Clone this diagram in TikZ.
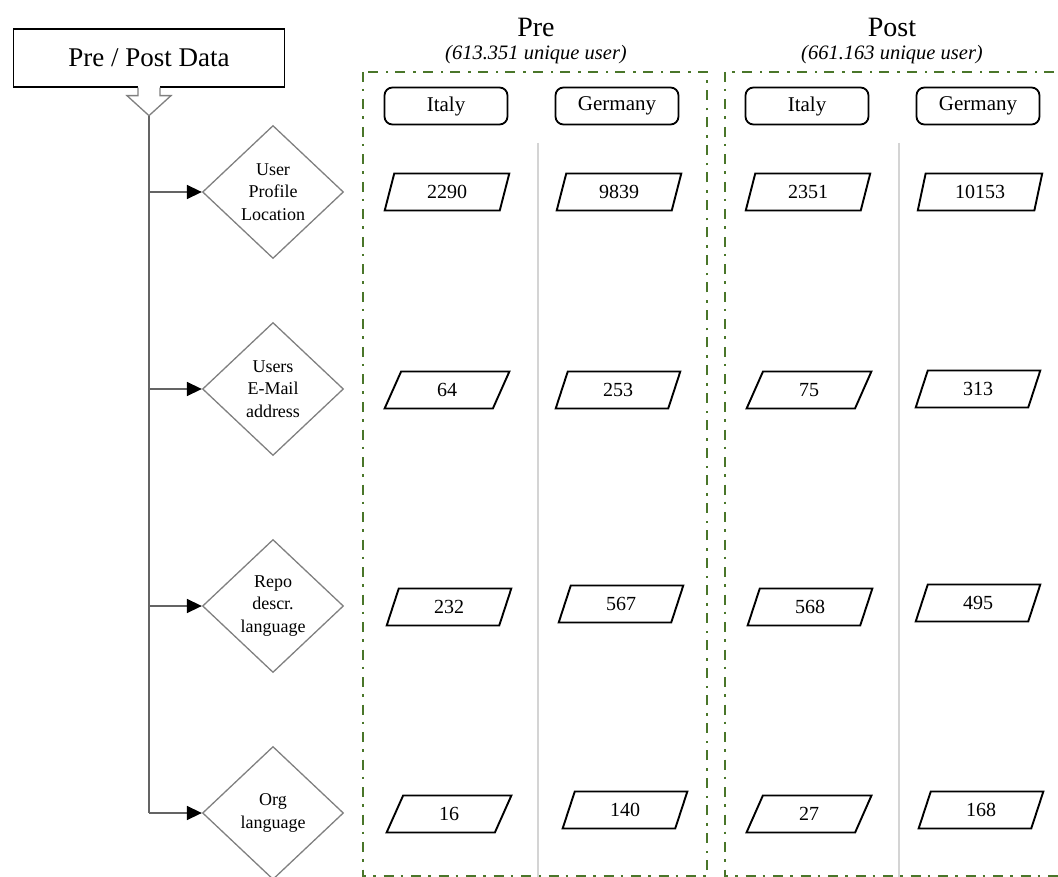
\documentclass[tikz,border=0pt]{standalone}
\usepackage{fontspec}
\setmainfont{Liberation Serif}
\usetikzlibrary{shapes.geometric,arrows.meta,calc}
\definecolor{frameGreen}{RGB}{74,118,42}
\definecolor{trunkGray}{RGB}{100,100,100}
\definecolor{shapeGray}{RGB}{128,128,128}
\definecolor{sepGray}{RGB}{212,212,212}

\begin{document}
\begin{tikzpicture}[x=1pt,y=-1pt,
  titlebox/.style={draw=black, line width=1.3pt, fill=white, minimum width=271pt,
    minimum height=58pt, inner sep=0pt, font=\fontsize{27}{31}\selectfont},
  notch/.style={draw=shapeGray, line width=1.3pt, line join=miter},
  trunk/.style={draw=trunkGray, line width=1.5pt},
  branch/.style={trunk, -{Triangle[length=15pt,width=14pt,color=black]}},
  decision/.style={diamond, draw=shapeGray, line width=1.3pt, minimum width=141pt,
    minimum height=133pt, inner sep=0pt, align=center,
    font=\fontsize{18}{22.5}\selectfont},
  groupbox/.style={draw=frameGreen, line width=2.5pt,
    dash pattern=on 10pt off 7pt on 2.5pt off 8pt},
  country/.style={draw=black, line width=1.8pt, rounded corners=8pt,
    minimum width=123pt, minimum height=37pt, inner sep=0pt,
    font=\fontsize{21}{25}\selectfont},
  count/.style={trapezium, trapezium left angle=75, trapezium right angle=105,
    trapezium stretches=true, draw=black, line width=1.9pt, minimum width=125pt,
    minimum height=37pt, inner sep=0pt, font=\fontsize{20}{24}\selectfont},
  heading/.style={inner sep=0pt, font=\fontsize{28}{32}\selectfont},
  subheading/.style={inner sep=0pt, font=\itshape\fontsize{20.5}{24}\selectfont},
  separator/.style={draw=sepGray, line width=1.5pt}
]
\useasboundingbox (0,0) rectangle (1058,877);
\clip (0,0) rectangle (1058,877);

% group frames and column separators
\draw[groupbox] (363,72) rectangle (707,876.5);
\draw[groupbox] (725,72) rectangle (1075,876.5);
\draw[separator] (538,143) -- (538,880);
\draw[separator] (899,143) -- (899,880);

% headings
\node[heading]    (preH)   at (536,27) {Pre};
\node[subheading] (preS)   at (536,55) {(613.351 unique user)};
\node[heading]    (postH)  at (892,27) {Post};
\node[subheading] (postS)  at (892,55) {(661.163 unique user)};

% country headers
\node[country] (preIT)  at (446,106) {Italy};
\node[country] (preDE)  at (617,106) {Germany};
\node[country] (postIT) at (807,106) {Italy};
\node[country] (postDE) at (978,106) {Germany};

% source box with its outlined down arrow
\node[titlebox] (title) at (149,58) {Pre / Post Data};
\fill[white] ($(title.south)+(-11,-1.5)$) rectangle ($(title.south)+(11,1.5)$);
\coordinate (tip) at ($(title.south)+(0,28)$);
\draw[notch] ($(title.south)+(-11,0)$) -- ($(title.south)+(-11,8)$)
  -- ($(title.south)+(-22,8)$) -- (tip) -- ($(title.south)+(22,8)$)
  -- ($(title.south)+(11,8)$) -- ($(title.south)+(11,0)$);

% criteria
\node[decision] (d1) at (273,192) {User\\Profile\\Location};
\node[decision] (d2) at (273,389) {Users\\E-Mail\\address};
\node[decision] (d3) at (273,606) {Repo\\descr.\\language};
\node[decision] (d4) at (273,813) {Org\\language};

% trunk and branches
\draw[trunk] (tip) -- (tip |- d4);
\foreach \d in {d1,d2,d3,d4} {
  \draw[branch] (tip |- \d) -- (\d.west);
}

% counts
\node[count] (c11) at (447,192) {2290};
\node[count] (c12) at (619,192) {9839};
\node[count] (c13) at (808,192) {2351};
\node[count] (c14) at (980,192) {10153};

\node[count] (c21) at (447,390) {64};
\node[count] (c22) at (618,390) {253};
\node[count] (c23) at (809,390) {75};
\node[count] (c24) at (978,389) {313};

\node[count] (c31) at (449,607) {232};
\node[count] (c32) at (621,604) {567};
\node[count] (c33) at (810,607) {568};
\node[count] (c34) at (978,603) {495};

\node[count] (c41) at (449,814) {16};
\node[count] (c42) at (625,810) {140};
\node[count] (c43) at (809,814) {27};
\node[count] (c44) at (981,810) {168};
\end{tikzpicture}
\end{document}
